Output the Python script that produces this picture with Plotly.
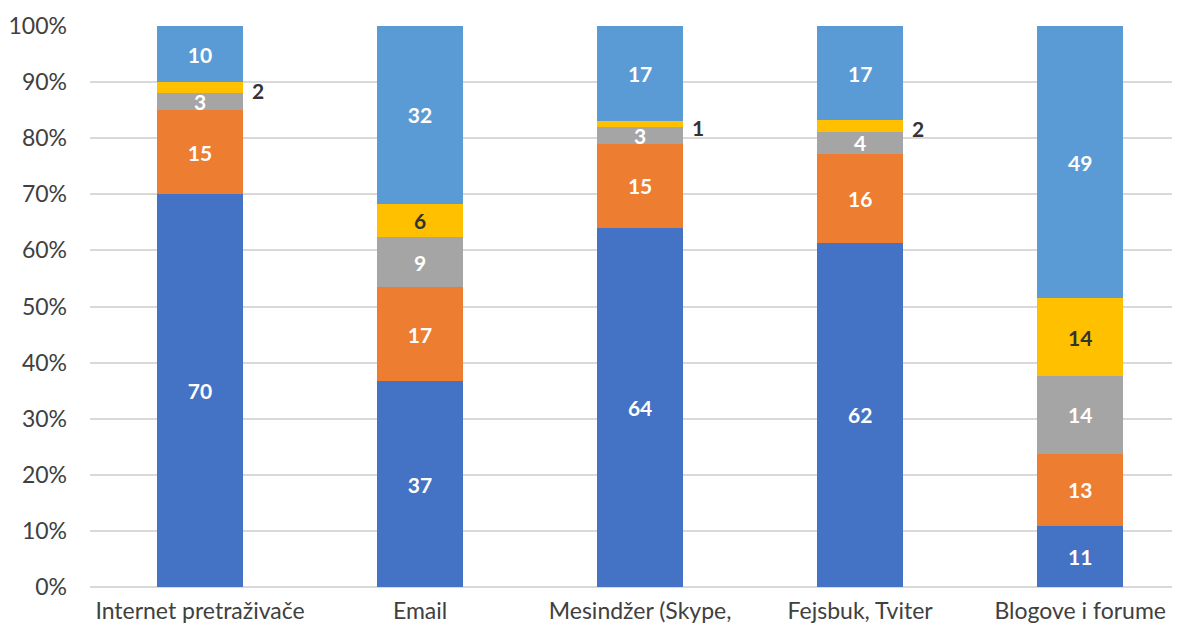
import plotly.graph_objects as go

categories = ["Internet pretraživače", "Email", "Mesindžer (Skype,", "Fejsbuk, Tviter", "Blogove i forume"]
series_names = ["Serija 1", "Serija 2", "Serija 3", "Serija 4", "Serija 5"]
s1 = [70, 37, 64, 62, 11]
s2 = [15, 17, 15, 16, 13]
s3 = [3, 9, 3, 4, 14]
s4 = [2, 6, 1, 2, 14]
s5 = [10, 32, 17, 17, 49]
tick_vals = [0, 10, 20, 30, 40, 50, 60, 70, 80, 90, 100]
tick_text = ["0%", "10%", "20%", "30%", "40%", "50%", "60%", "70%", "80%", "90%", "100%"]

colors = ["#4472C4", "#ED7D31", "#A5A5A5", "#FFC000", "#5B9BD5"]
text_colors = ["white", "white", "white", "#333333", "white"]
series = [s1, s2, s3, s4, s5]

fig = go.Figure()
for name, vals, col, tcol in zip(series_names, series, colors, text_colors):
    if vals is s4:
        txt = [str(v) if v >= 5 else "" for v in vals]
    else:
        txt = [str(v) for v in vals]
    fig.add_trace(go.Bar(
        x=categories, y=vals, name=name, marker=dict(color=col, line=dict(width=0)),
        text=txt, textposition="inside", insidetextanchor="middle", textangle=0,
        textfont=dict(color=tcol, size=21, family="Lato", weight="bold"),
        constraintext="none", hoverinfo="skip",
    ))

# outside labels for small yellow segments
for i, cat in enumerate(categories):
    if s4[i] < 5:
        total = s1[i] + s2[i] + s3[i] + s4[i] + s5[i]
        mid = (s1[i] + s2[i] + s3[i] + s4[i] / 2) / total * 100
        fig.add_annotation(x=cat, y=mid, text=str(s4[i]), showarrow=False,
                           xshift=58, yshift=-3,
                           font=dict(color="#333333", size=21, family="Lato", weight="bold"))

fig.update_layout(
    barmode="stack", barnorm="percent", bargap=0.61,
    width=1180, height=632,
    margin=dict(l=82, r=0, t=18, b=53),
    plot_bgcolor="white", paper_bgcolor="white",
    showlegend=False,
    uniformtext=dict(minsize=21, mode="show"),
    font=dict(family="Lato", color="#595959"),
)
fig.update_xaxes(range=[-0.5, 4.49], showgrid=False, showline=False, ticks="",
                 ticklabelstandoff=8,
                 tickfont=dict(size=23, color="#404040"))
fig.update_yaxes(range=[0, 100], tickvals=tick_vals, ticktext=tick_text,
                 showgrid=True, gridcolor="#D9D9D9", gridwidth=2,
                 zeroline=True, zerolinecolor="#D9D9D9", zerolinewidth=2,
                 showline=False, ticks="", ticklabelstandoff=22,
                 tickfont=dict(size=23, color="#404040"))

fig.write_html("out.html")
